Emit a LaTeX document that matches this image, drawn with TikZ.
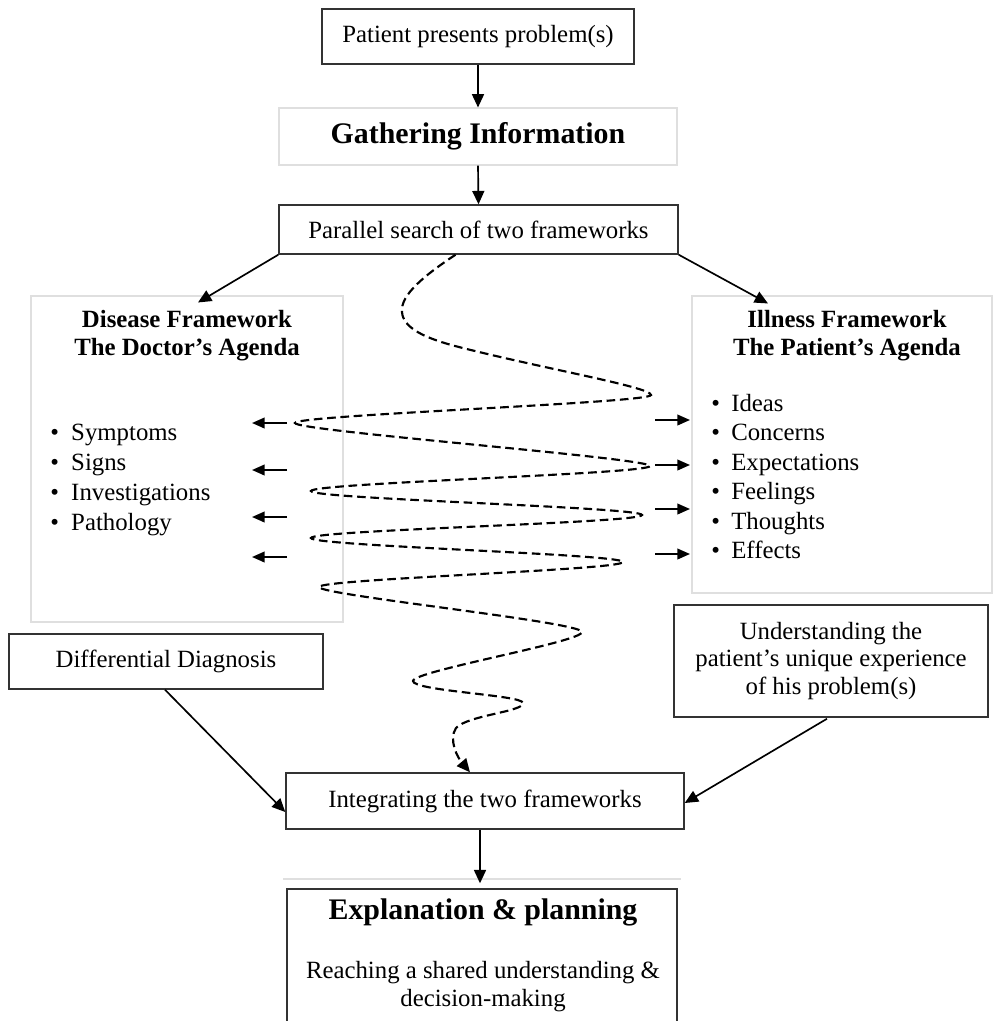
\documentclass[tikz,border=0pt]{standalone}
\usepackage{fontspec}
\setmainfont{Liberation Serif}
\usetikzlibrary{arrows.meta,calc}
\begin{document}
\begin{tikzpicture}[x=0.75pt,y=-0.75pt,
  txt/.style={font=\fontsize{18.6}{20.5}\selectfont},
  boldtxt/.style={font=\fontsize{18.6}{21}\selectfont\bfseries},
  bigbold/.style={font=\fontsize{22.4}{26}\selectfont\bfseries},
  sz/.style 2 args={minimum width=#1*0.75pt, minimum height=#2*0.75pt},
  darkbox/.style={draw=black!80, line width=1.1pt, fill=white, inner sep=0pt, txt, align=center},
  lightbox/.style={draw=gray!25, line width=0.8pt, inner sep=0pt},
  flow/.style={line width=1.25pt, -{Triangle[length=10pt,width=9pt]}},
  small/.style={line width=1.4pt, -{Triangle[length=9.5pt,width=8pt]}},
  wave/.style={line width=1.6pt, dash pattern=on 6.5pt off 3.5pt, -{Triangle[length=10pt,width=9pt]}},
  item/.style={txt, anchor=mid west, inner sep=0pt},
]
\useasboundingbox (0,0) rectangle (993,1021);
\clip (0,0) rectangle (993,1021);
\fill[white] (0,0) rectangle (993,1021);

% top of the flow
\node[darkbox, sz={312}{55}] (pp) at (478,36.5) {Patient presents problem(s)};
\node[lightbox, sz={398}{57}, bigbold] (gi) at (478,136.5) {Gathering Information};
\node[darkbox, sz={399}{49}] (par) at (478.5,229.5) {Parallel search of two frameworks};

% the two frameworks
\node[lightbox, sz={312}{326}] (dis) at (187,459) {};
\node[lightbox, sz={300}{297}] (ill) at (842,444.5) {};
\node[boldtxt, align=center] (distitle) at (187,336) {Disease Framework\\The Doctor’s Agenda};
\node[boldtxt, align=center] (illtitle) at (847,336) {Illness Framework\\The Patient’s Agenda};

\node[item] (d1) at (50,437) {\makebox[15.75pt][l]{•}Symptoms};
\node[item] (d2) at (50,467) {\makebox[15.75pt][l]{•}Signs};
\node[item] (d3) at (50,497) {\makebox[15.75pt][l]{•}Investigations};
\node[item] (d4) at (50,527) {\makebox[15.75pt][l]{•}Pathology};

\node[item] (i1) at (711,408) {\makebox[15pt][l]{•}Ideas};
\node[item] (i2) at (711,437.5) {\makebox[15pt][l]{•}Concerns};
\node[item] (i3) at (711,467) {\makebox[15pt][l]{•}Expectations};
\node[item] (i4) at (711,496.5) {\makebox[15pt][l]{•}Feelings};
\node[item] (i5) at (711,526) {\makebox[15pt][l]{•}Thoughts};
\node[item] (i6) at (711,555.5) {\makebox[15pt][l]{•}Effects};

% lower boxes
\node[darkbox, sz={314}{55}] (dd) at (166,661.5) {Differential Diagnosis};
\node[darkbox, sz={314}{112}] (und) at (831,661) {Understanding the\\patient’s unique experience\\of his problem(s)};
\node[darkbox, sz={398}{56}] (int) at (485,801) {Integrating the two frameworks};

\draw[gray!25, line width=0.8pt] (283,879) -- (681,879);
\node[darkbox, sz={390}{160}] (exp) at (482,969) {};
\node[bigbold] (exptitle) at (483,912) {Explanation \& planning};
\node[txt, align=center] (expsub) at (483,986.5) {Reaching a shared understanding \&\\decision-making};

% connectors
\draw[flow] (pp.south) -- (gi.north);
\draw[flow] (gi.south) -- (par.north);
\draw[flow] (par.south west) -- ($(dis.north)+(11,7)$);
\draw[flow] (par.south east) -- ($(ill.north)+(-74,8)$);
\draw[flow] ($(dd.south)+(-1,0)$) -- ($(int.west)+(0,11)$);
\draw[flow] ($(und.south)+(-4,1)$) -- ($(int.east)+(0,2)$);
\draw[flow] ($(int.south)+(-5,0)$) -- ($(exp.north)+(-2,-5)$);

% short arrows towards each framework
\foreach \yy [count=\k] in {423,470,517,557}
  \draw[small] (287,\yy) coordinate (la\k) -- (252,\yy) coordinate (lb\k);
\foreach \yy [count=\k] in {420,465,509,554}
  \draw[small] (655,\yy) coordinate (ra\k) -- (690,\yy) coordinate (rb\k);

% the search weaving between the two frameworks
\draw[wave] ($(par.south)+(-23,0)$)
  .. controls (425,275) and (400,295) .. (402,312)
  .. controls (403,328) and (425,338) .. (455,346)
  .. controls (540,368) and (651,387) .. (651,395)
  .. controls (651,403) and (295,415) .. (295,423)
  .. controls (295,431) and (650,458) .. (650,466)
  .. controls (650,474) and (311,483) .. (311,491)
  .. controls (311,499) and (642,507) .. (642,515)
  .. controls (642,523) and (311,530) .. (311,538)
  .. controls (311,546) and (623,554) .. (623,562)
  .. controls (623,570) and (319,579) .. (319,587)
  .. controls (319,595) and (582,622) .. (582,632)
  .. controls (582,642) and (413,671) .. (413,681)
  .. controls (413,691) and (523,695) .. (523,703)
  .. controls (523,712) and (468,715) .. (456,728)
  .. controls (448,740) and (458,758) .. ($(int.north)+(-15,0)$);
\end{tikzpicture}
\end{document}
